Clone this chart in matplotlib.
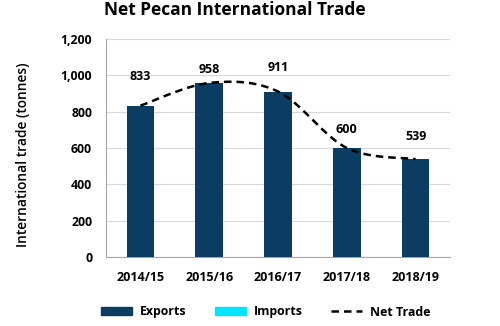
import numpy as np
import matplotlib
matplotlib.use("Agg")
import matplotlib.pyplot as plt
from matplotlib.patches import Patch
from matplotlib.lines import Line2D

categories = ["2014/15", "2015/16", "2016/17", "2017/18", "2018/19"]
exports = [833, 958, 911, 600, 539]
imports = [0, 0, 0, 0, 0]
net_trade = [e - i for e, i in zip(exports, imports)]
yticks = [0, 200, 400, 600, 800, 1000, 1200]

plt.rcParams['font.family'] = ['Open Sans', 'DejaVu Sans']

fig = plt.figure(figsize=(5.0, 3.26), dpi=100)
ax = fig.add_axes([106/500, 1-257/326, (450-106)/500, (257-39)/326])

x = np.arange(len(categories))
navy = "#0B3D63"
cyan = "#00E5FF"
ax.bar(x, exports, width=0.4, color=navy, zorder=3)

# Catmull-Rom smoothing (Excel-like smoothed line)
def smooth(xs, ys, n=40):
    xs = np.asarray(xs, float); ys = np.asarray(ys, float)
    px = np.concatenate([[xs[0]], xs, [xs[-1]]])
    py = np.concatenate([[ys[0]], ys, [ys[-1]]])
    ox, oy = [], []
    for i in range(1, len(px) - 2):
        p0, p1, p2, p3 = [np.array([px[j], py[j]]) for j in (i-1, i, i+1, i+2)]
        c1 = p1 + (p2 - p0) / 6
        c2 = p2 - (p3 - p1) / 6
        t = np.linspace(0, 1, n)[:, None]
        pts = (1-t)**3*p1 + 3*(1-t)**2*t*c1 + 3*(1-t)*t**2*c2 + t**3*p2
        ox.extend(pts[:, 0]); oy.extend(pts[:, 1])
    return ox, oy

sx, sy = smooth(x, net_trade)
ax.plot(sx, sy, color="black", lw=1.8, ls=(0, (3, 2)), zorder=4)

label_offsets = [21, 9.5, 17.5, 13.5, 16.5]
for xi, v, off in zip(x, net_trade, label_offsets):
    ax.annotate(f"{v:,}", (xi, v), xytext=(0, off), textcoords="offset points",
                ha="center", va="center", fontsize=9, fontweight="bold")

ax.set_ylim(0, 1200)
ax.set_xlim(-0.5, len(categories) - 0.5)
ax.set_yticks(yticks)
ax.set_yticklabels([f"{t:,}" for t in yticks], fontsize=8.8, fontweight="bold")
ax.set_xticks(x)
ax.set_xticklabels(categories, fontsize=9, fontweight="bold")
ax.tick_params(length=0)
ax.tick_params(axis="y", pad=10)
ax.tick_params(axis="x", pad=10)
ax.grid(axis="y", color="#D9D9D9", lw=0.8, zorder=0)
for s in ["top", "right"]:
    ax.spines[s].set_visible(False)
for s in ["left", "bottom"]:
    ax.spines[s].set_color("#A6A6A6")
    ax.spines[s].set_linewidth(0.8)

ax.set_ylabel("International trade (tonnes)", fontsize=9.9, fontweight="semibold")
ax.yaxis.set_label_coords((30-106)/344, (257-155)/218)

fig.text(235/500, 1-10/326, "Net Pecan International Trade", ha="center", va="center",
         fontsize=12.5, fontweight="bold")

handles = [Patch(color=navy), Patch(color=cyan),
           Line2D([0], [0], color="black", lw=1.8, ls=(0, (3, 2)))]
fig.legend(handles, ["Exports", "Imports", "Net Trade"], loc="center",
           bbox_to_anchor=(266/500, 1-312/326), ncol=3, frameon=False,
           prop={"weight": "bold", "size": 8.9},
           handlelength=2.5, handleheight=0.6, columnspacing=2.3, handletextpad=0.65)

fig.savefig("out.png", dpi=100)
